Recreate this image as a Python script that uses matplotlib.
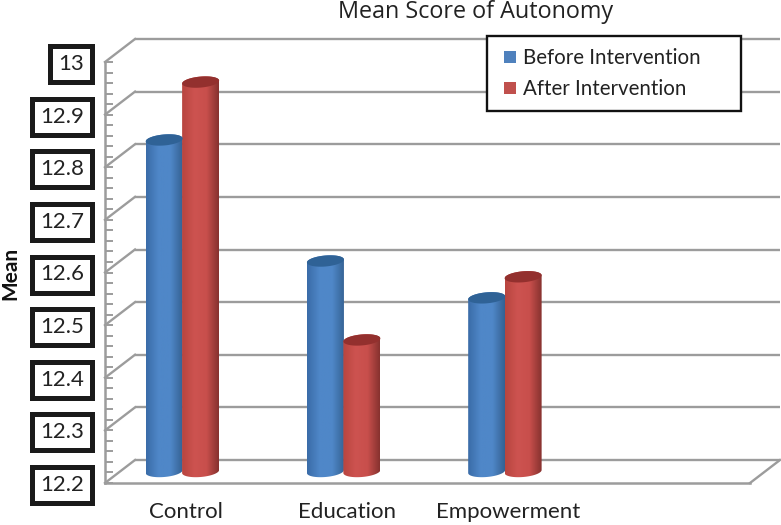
import numpy as np
import matplotlib
matplotlib.use('Agg')
import matplotlib.pyplot as plt
from matplotlib.colors import LinearSegmentedColormap
from matplotlib.lines import Line2D
from matplotlib.patches import Polygon

# values, last category is empty in the original
categories = ['Control', 'Education', 'Empowerment', '']
before = [12.83, 12.60, 12.53]
after = [12.94, 12.45, 12.57]
y_ticks = [12.2, 12.3, 12.4, 12.5, 12.6, 12.7, 12.8, 12.9, 13.0]
y_labels = ['12.2', '12.3', '12.4', '12.5', '12.6', '12.7', '12.8', '12.9', '13']

W, H = 781, 525
LEFT, RIGHT, TOP, BOTTOM = 105, 750, 62, 483
GRID = '#9c9c9c'

plt.rcParams['font.family'] = ['Lato', 'DejaVu Sans']

fig = plt.figure(figsize=(W / 100, H / 100), dpi=100)
ax = fig.add_axes([LEFT / W, 1 - BOTTOM / H, (RIGHT - LEFT) / W, (BOTTOM - TOP) / H])
ax.patch.set_alpha(0)

# pixels -> data units for the fake 3d depth
x_per_px = 4 / (RIGHT - LEFT)
y_per_px = 0.8 / (BOTTOM - TOP)
back_x = 30 * x_per_px
back_y = 23 * y_per_px
mid_y = 11.5 * y_per_px


def cylinder(x, value, stops, top_color):
    rx = 18.5 * x_per_px
    ry = 5.5 * y_per_px
    tilt = 1.5 * y_per_px
    base = 12.2 + mid_y
    top = value + mid_y
    t = np.linspace(np.pi, 2 * np.pi, 40)
    low_x = x + rx * np.cos(t)
    low_y = base + ry * np.sin(t) + tilt * np.cos(t)
    t2 = np.linspace(0, np.pi, 40)
    up_x = x + rx * np.cos(t2)
    up_y = top + ry * np.sin(t2) + tilt * np.cos(t2)
    body = Polygon(np.column_stack([np.r_[low_x, up_x], np.r_[low_y, up_y]]),
                   closed=True, fc='none', ec='none', zorder=3)
    ax.add_patch(body)
    cmap = LinearSegmentedColormap.from_list('cyl', stops)
    im = ax.imshow(np.linspace(0, 1, 64).reshape(1, -1), cmap=cmap, aspect='auto',
                   extent=[x - rx, x + rx, base - 2 * ry, top + 2 * ry], zorder=3)
    im.set_clip_path(body)
    t3 = np.linspace(0, 2 * np.pi, 80)
    ax.fill(x + rx * np.cos(t3), top + ry * np.sin(t3) + tilt * np.cos(t3),
            color=top_color, lw=0, zorder=4)


# back wall, floor and the diagonals
x0, x1 = -0.5, 3.5
for v in y_ticks:
    ax.plot([x0 + back_x, x1 + back_x], [v + back_y, v + back_y], color=GRID, lw=1.7,
            clip_on=False, zorder=1, solid_capstyle='butt')
    ax.plot([x0, x0 + back_x], [v, v + back_y], color=GRID, lw=1.7, clip_on=False, zorder=1)
ax.plot([x1, x1 + back_x], [12.2, 12.2 + back_y], color=GRID, lw=1.7, clip_on=False, zorder=1)

blue = ['#3a6ca8', '#4f87c8', '#4f87c8', '#356293']
red = ['#b8453f', '#cd5350', '#c84f4c', '#87322f']
for i in range(len(before)):
    cylinder(i - 0.226 + 0.113 - 0.02, before[i], blue, '#2f6296')
    cylinder(i + 0.113 - 0.02, after[i], red, '#93302e')

ax.set_xlim(x0, x1)
ax.set_ylim(12.2, 13.0)
ax.set_xticks(range(4))
ax.set_xticklabels(categories, fontsize=16, color='#222222')
ax.tick_params(axis='x', length=0, pad=14)

ax.set_yticks(y_ticks)
ax.set_yticklabels(y_labels, fontsize=16, color='#222222')
ax.set_yticks(np.arange(12.2, 13.0, 0.02), minor=True)
ax.tick_params(axis='y', which='both', direction='in', length=6, width=1.4, color=GRID)
ax.tick_params(axis='y', which='major', pad=15)
for lab in ax.get_yticklabels():
    lab.set_bbox(dict(boxstyle='square,pad=0.36', fc='white', ec='#1a1a1a', lw=3.6))

for s in ['top', 'right']:
    ax.spines[s].set_visible(False)
for s in ['left', 'bottom']:
    ax.spines[s].set_color(GRID)
    ax.spines[s].set_linewidth(1.8)

ax.set_ylabel('Mean', fontsize=15, fontweight='bold', color='#111111', va='center')
ax.yaxis.set_label_coords((10 - LEFT) / (RIGHT - LEFT), (BOTTOM - 273) / (BOTTOM - TOP))

fig.text(476 / W, 1 - 12 / H, 'Mean Score of Autonomy', ha='center', va='center',
         fontsize=16.8, color='#222222', family='Open Sans')

handles = [Line2D([], [], ls='', marker='s', markersize=8.6, mew=0, color='#4f81bd',
                  label='Before Intervention'),
           Line2D([], [], ls='', marker='s', markersize=8.6, mew=0, color='#c0504d',
                  label='After Intervention')]
leg = ax.legend(handles=handles, loc='upper left', mode='expand',
                bbox_to_anchor=(487 / W, 1 - 109 / H, 254 / W, 73 / H),
                bbox_transform=fig.transFigure, fontsize=14.8, frameon=True, fancybox=False,
                framealpha=1, edgecolor='#111111', handlelength=1.1, handletextpad=0.05,
                labelspacing=0.55, borderpad=0.58, borderaxespad=0, numpoints=1,
                labelcolor='#222222')
leg.get_frame().set_linewidth(1.7)
leg.set_zorder(6)

fig.savefig('out.png', dpi=100)
